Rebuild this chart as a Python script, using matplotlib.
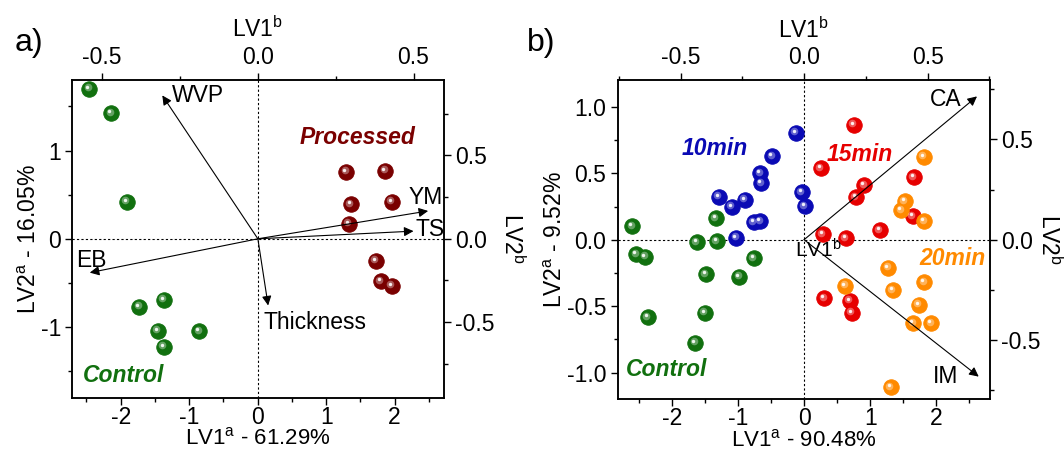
import matplotlib
matplotlib.use('Agg')
import matplotlib.pyplot as plt
from matplotlib.transforms import offset_copy

plt.rcParams['font.family'] = ['Liberation Sans', 'DejaVu Sans']
plt.rcParams['mathtext.default'] = 'regular'
plt.rcParams['axes.unicode_minus'] = False
FS = 16.5
plt.rcParams['font.size'] = FS

# ---- panel a: scores (LV1a, LV2a) ----
a_ctrl_x = [-2.46, -2.14, -1.91, -1.73, -1.37, -1.46, -1.37, -0.85]
a_ctrl_y = [1.70, 1.42, 0.42, -0.77, -0.69, -1.04, -1.22, -1.05]
a_proc_x = [1.29, 1.86, 1.36, 1.96, 1.33, 1.72, 1.80, 1.96]
a_proc_y = [0.76, 0.77, 0.39, 0.42, 0.17, -0.25, -0.48, -0.53]
# panel a: loadings (LV1b, LV2b)
a_load_names = ['WVP', 'EB', 'YM', 'TS', 'Thickness']
a_load_x = [-0.307, -0.54, 0.547, 0.50, 0.033]
a_load_y = [0.86, -0.203, 0.167, 0.046, -0.40]

# ---- panel b: scores ----
b_ctrl_x = [-2.61, -2.55, -2.41, -2.37, -1.63, -1.33, -1.34, -1.49, -1.51, -1.65, -0.99, -0.77]
b_ctrl_y = [0.10, -0.11, -0.13, -0.585, -0.018, -0.013, 0.16, -0.26, -0.55, -0.775, -0.28, -0.14]
b_10_x = [-0.13, -0.49, -0.67, -0.65, -1.30, -1.10, -0.90, -0.04, 0.005, -0.77, -0.67, -1.03]
b_10_y = [0.806, 0.63, 0.50, 0.426, 0.324, 0.248, 0.30, 0.357, 0.253, 0.13, 0.14, 0.015]
b_15_x = [0.75, 0.25, 0.91, 0.78, 1.66, 1.64, 1.14, 0.28, 0.63, 0.30, 0.69, 0.72]
b_15_y = [0.864, 0.54, 0.41, 0.32, 0.47, 0.175, 0.073, 0.043, 0.01, -0.44, -0.46, -0.55]
b_20_x = [1.81, 1.52, 1.47, 1.82, 1.27, 1.34, 0.62, 1.82, 1.73, 1.65, 1.92, 1.31]
b_20_y = [0.626, 0.29, 0.22, 0.14, -0.21, -0.38, -0.345, -0.32, -0.49, -0.63, -0.63, -1.11]
# panel b: loadings
b_load_names = ['CA', 'IM']
b_load_x = [0.70, 0.707]
b_load_y = [0.715, -0.683]

green = '#11700f'
darkred = '#7a0000'
blue = '#0a0ab4'
red = '#e60000'
orange = '#ff8a00'


def spheres(ax, x, y, c):
    # shaded ball: body + soft light + highlight
    ax.scatter(x, y, s=125, color=c, edgecolors=c, linewidths=0.6, zorder=4)
    tr = offset_copy(ax.transData, fig=ax.figure, x=-1.5, y=1.5, units='dots')
    ax.scatter(x, y, s=30, color='white', alpha=0.35, linewidths=0, zorder=5, transform=tr)
    tr2 = offset_copy(ax.transData, fig=ax.figure, x=-2.0, y=2.0, units='dots')
    ax.scatter(x, y, s=6, color='white', alpha=0.9, linewidths=0, zorder=6, transform=tr2)


def setup(fig, pos, xlim, ylim, bxlim, bylim, xmaj, ymaj, yminor, yfmt):
    ax = fig.add_axes(pos)
    axb = fig.add_axes(pos)
    axb.patch.set_visible(False)
    axb.xaxis.set_ticks_position('top')
    axb.xaxis.set_label_position('top')
    axb.yaxis.set_ticks_position('right')
    axb.yaxis.set_label_position('right')
    ax.xaxis.set_ticks_position('bottom')
    ax.yaxis.set_ticks_position('left')
    ax.set_xticks(xmaj)
    ax.set_xticklabels([f'{v:g}' for v in xmaj])
    ax.set_xticks([-2.5, -1.5, -0.5, 0.5, 1.5, 2.5], minor=True)
    ax.set_yticks(ymaj)
    ax.set_yticklabels([yfmt.format(v) for v in ymaj])
    ax.set_yticks(yminor, minor=True)
    bt = [-0.5, 0.0, 0.5]
    axb.set_xticks(bt)
    axb.set_xticklabels(['-0.5', '0.0', '0.5'])
    axb.set_xticks([-0.75, -0.25, 0.25, 0.75], minor=True)
    axb.set_yticks(bt)
    axb.set_yticklabels(['-0.5', '0.0', '0.5'])
    axb.set_yticks([-0.75, -0.25, 0.25, 0.75], minor=True)
    # limits after ticks (set_ticks can widen the view)
    ax.set_xlim(xlim)
    ax.set_ylim(ylim)
    axb.set_xlim(bxlim)
    axb.set_ylim(bylim)
    for a in (ax, axb):
        a.tick_params(which='major', direction='out', length=5, width=1, labelsize=FS, pad=3)
        a.tick_params(which='minor', direction='out', length=3, width=1)
        for s in a.spines.values():
            s.set_linewidth(1.1)
    ax.tick_params(axis='x', which='major', pad=1)
    ax.axhline(0, color='black', lw=0.8, ls=(0, (2, 2)), zorder=1)
    ax.axvline(0, color='black', lw=0.8, ls=(0, (2, 2)), zorder=1)
    return ax, axb


def loadings(axb, xs, ys):
    for x, y in zip(xs, ys):
        axb.annotate('', xy=(x, y), xytext=(0, 0),
                     arrowprops=dict(arrowstyle='-|>', color='black', lw=0.8,
                                     mutation_scale=14, shrinkA=0, shrinkB=0),
                     zorder=7)


fig = plt.figure(figsize=(10.64, 4.54), dpi=100)

# ---------------- panel a ----------------
axa, axab = setup(fig, [0.0677, 0.124, 0.3496, 0.700], (-2.71, 2.72), (-1.8, 1.8),
                  (-0.597, 0.598), (-0.953, 0.953), [-2, -1, 0, 1, 2], [-1, 0, 1],
                  [-1.5, -0.5, 0.5, 1.5], '{:g}')
spheres(axa, a_ctrl_x, a_ctrl_y, green)
spheres(axa, a_proc_x, a_proc_y, darkred)
loadings(axab, a_load_x, a_load_y)
a_lab_pos = [(-0.275, 0.86), (-0.583, -0.13), (0.485, 0.245), (0.507, 0.055), (0.017, -0.50)]
for n, (x, y) in zip(a_load_names, a_lab_pos):
    axab.text(x, y, n, ha='left', va='center', fontsize=FS, zorder=8)
axa.text(1.46, 1.146, 'Processed', color=darkred, fontsize=FS, fontweight='bold',
         fontstyle='italic', ha='center', va='center')
axa.text(-1.96, -1.545, 'Control', color=green, fontsize=FS, fontweight='bold',
         fontstyle='italic', ha='center', va='center')
axa.set_xlabel('LV1$^a$ - 61.29%', fontsize=16, labelpad=-1)
axa.set_ylabel('LV2$^a$ - 16.05%', fontsize=FS, labelpad=0)
axab.set_xlabel('LV1$^b$', fontsize=FS, labelpad=6)
axab.set_ylabel('LV2$^b$', fontsize=FS, rotation=270, labelpad=22)
fig.text(0.014, 0.905, 'a)', fontsize=23, va='center')

# ---------------- panel b ----------------
axb_, axbb = setup(fig, [0.5804, 0.121, 0.3499, 0.702], (-2.83, 2.81), (-1.2, 1.2),
                   (-0.755, 0.752), (-0.795, 0.795), [-2, -1, 0, 1, 2],
                   [-1.0, -0.5, 0.0, 0.5, 1.0], [-0.75, -0.25, 0.25, 0.75], '{:.1f}')
spheres(axb_, b_ctrl_x, b_ctrl_y, green)
spheres(axb_, b_10_x, b_10_y, blue)
spheres(axb_, b_15_x, b_15_y, red)
spheres(axb_, b_20_x, b_20_y, orange)
loadings(axbb, b_load_x, b_load_y)
axbb.text(0.572, 0.70, 'CA', fontsize=FS, ha='center', va='center', zorder=8)
axbb.text(0.574, -0.683, 'IM', fontsize=FS, ha='center', va='center', zorder=8)
axbb.text(-0.037, -0.05, 'LV1$^b$', fontsize=15, ha='left', va='center', zorder=8)
axb_.text(-1.36, 0.687, '10min', color=blue, fontsize=FS, fontweight='bold',
          fontstyle='italic', ha='center', va='center')
axb_.text(0.845, 0.641, '15min', color=red, fontsize=FS, fontweight='bold',
          fontstyle='italic', ha='center', va='center')
axb_.text(2.25, -0.144, '20min', color=orange, fontsize=FS, fontweight='bold',
          fontstyle='italic', ha='center', va='center')
axb_.text(-2.08, -0.975, 'Control', color=green, fontsize=FS, fontweight='bold',
          fontstyle='italic', ha='center', va='center')
axb_.set_xlabel('LV1$^a$ - 90.48%', fontsize=16, labelpad=-1)
axb_.set_ylabel('LV2$^a$ - 9.52%', fontsize=FS, labelpad=0)
axbb.set_xlabel('LV1$^b$', fontsize=FS, labelpad=6)
axbb.set_ylabel('LV2$^b$', fontsize=FS, rotation=270, labelpad=15)
fig.text(0.495, 0.905, 'b)', fontsize=23, va='center')

fig.savefig('out.png', dpi=100)
